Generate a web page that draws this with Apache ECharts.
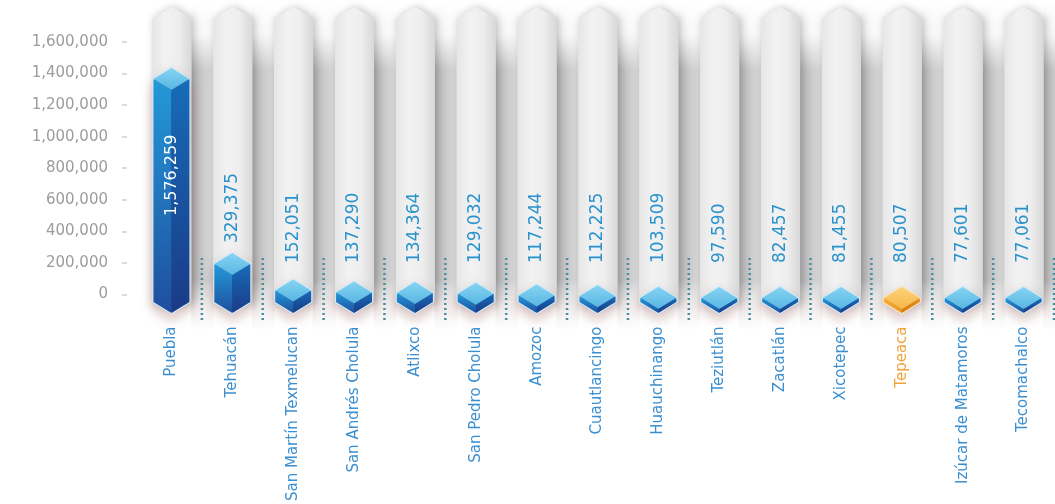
<!DOCTYPE html>
<html>
<head>
<meta charset="utf-8">
<script src="https://cdn.jsdelivr.net/npm/echarts@6/dist/echarts.min.js"></script>
<style>
html,body{margin:0;padding:0;background:#ffffff;}
#chart{width:1055px;height:504px;}
</style>
</head>
<body>
<div id="chart"></div>
<script>
// ---- data ----
const categories = ['Puebla','Tehuacán','San Martín Texmelucan','San Andrés Cholula','Atlixco','San Pedro Cholula','Amozoc','Cuautlancingo','Huauchinango','Teziutlán','Zacatlán','Xicotepec','Tepeaca','Izúcar de Matamoros','Tecomachalco'];
const population = [1576259,329375,152051,137290,134364,129032,117244,112225,103509,97590,82457,81455,80507,77601,77061];
const highlighted = 'Tepeaca';
const yMin = 0, yMax = 1600000, yStep = 200000;

// ---- styles ----
const FONT = '"DejaVu Sans", "Noto Sans", sans-serif';
const LG = (stops) => new echarts.graphic.LinearGradient(0, 0, 0, 1, stops.map((c, i) => ({offset: i / (stops.length - 1), color: c})));
const LGH = (stops) => new echarts.graphic.LinearGradient(0, 0, 1, 0, stops.map((c, i) => ({offset: i / (stops.length - 1), color: c})));
const blue = {top: ['#86d4f2', '#58b6e3'], left: ['#2499d8', '#1e4f9e'], right: ['#176cb8', '#1b3a86'], edge: '#d3ecf9'};
const orange = {top: ['#fcd27a', '#f7b64a'], left: ['#f6ad38', '#e8921d'], right: ['#e49425', '#cf7913'], edge: '#fde7c0'};

const chart = echarts.init(document.getElementById('chart'), null, {renderer: 'canvas'});

function renderColumn(params, api) {
  const i = api.value(0);
  const x = api.coord([i, 0])[0];
  const bw = api.size([1, 0])[0];
  const gx0 = x + 20, gx1 = x + bw - 19;
  return {
    type: 'group',
    children: [
      // shaded gap to the right of the column
      {type: 'rect', shape: {x: gx0, y: 0, width: gx1 - gx0, height: 330},
        style: {fill: LGH(['#b9b9b9', '#c9c9c9', '#dcdcdc'])}},
      // fade the gap into white at the top
      {type: 'rect', shape: {x: gx0 - 1, y: 0, width: gx1 - gx0 + 2, height: 70},
        style: {fill: LG(['rgba(255,255,255,1)', 'rgba(255,255,255,0.85)', 'rgba(255,255,255,0)'])}},
      // fade at the bottom
      {type: 'rect', shape: {x: gx0 - 1, y: 280, width: gx1 - gx0 + 2, height: 50},
        style: {fill: LG(['rgba(255,255,255,0)', 'rgba(250,244,244,0.8)', 'rgba(255,255,255,1)'])}},
      // the column itself
      {type: 'polygon',
        shape: {points: [[x - 19, 18], [x + 0.5, 7], [x + 20, 18], [x + 20, 305], [x - 19, 305]]},
        style: {fill: LGH(['#e6e6e6', '#f2f2f2', '#eeeeee', '#d8d8d8']),
          shadowColor: 'rgba(0,0,0,0.25)', shadowBlur: 8, shadowOffsetX: 2}}
    ]
  };
}

function renderSeparator(params, api) {
  const i = api.value(0);
  const x = api.coord([i, 0])[0];
  const bw = api.size([1, 0])[0];
  const xs = x + bw / 2;
  return {
    type: 'line',
    shape: {x1: xs, y1: 258, x2: xs, y2: 320},
    style: {stroke: '#4a8da0', lineWidth: 2.5, lineDash: [2, 3]}
  };
}

function renderBar(params, api) {
  const i = api.value(0), v = api.value(1);
  const top = api.coord([i, v]);
  const base = api.coord([i, 0]);
  const x = top[0], w = 18, d = 11;
  const yb = base[1];
  const ysB = yb - d;
  const ys = Math.min(top[1], ysB - 4);
  const c = categories[i] === highlighted ? orange : blue;
  const children = [
    {type: 'polygon', shape: {points: [[x - w, ys], [x, ys - d], [x + w, ys], [x + w, ysB], [x, yb], [x - w, ysB]]},
      style: {fill: c.left[1], stroke: c.edge, lineWidth: 2, shadowColor: 'rgba(150,90,90,0.35)', shadowBlur: 12, shadowOffsetY: 6}},
    {type: 'polygon', shape: {points: [[x - w, ys], [x, ys + d], [x, yb], [x - w, ysB]]}, style: {fill: LG(c.left)}},
    {type: 'polygon', shape: {points: [[x, ys + d], [x + w, ys], [x + w, ysB], [x, yb]]}, style: {fill: LG(c.right)}},
    {type: 'polygon', shape: {points: [[x - w, ys], [x, ys - d], [x + w, ys], [x, ys + d]]}, style: {fill: LG(c.top)}}
  ];
  const txt = v.toLocaleString('en-US');
  const inside = (yb - ys) > 150;
  children.push({
    type: 'text', x: x, y: inside ? ys + d + 126 : Math.min(ys - d - 10, 263), rotation: Math.PI / 2,
    style: {text: txt, fill: inside ? '#ffffff' : '#2a92cc', fontSize: inside ? 16 : 17, fontFamily: FONT,
      align: 'left', verticalAlign: 'middle'}
  });
  return {type: 'group', children};
}

const option = {
  animation: false,
  backgroundColor: '#ffffff',
  grid: [
    {left: 141, right: 1, top: 42, bottom: 206},
    {left: 141, right: 1, top: 75.5, bottom: 191}
  ],
  xAxis: [
    {type: 'category', gridIndex: 0,
      data: categories.map(c => c === highlighted ? {value: c, textStyle: {color: '#f0a43c'}} : c),
      axisLine: {show: false}, axisTick: {show: false},
      axisLabel: {interval: 0, rotate: 90, margin: 32, fontSize: 15, fontFamily: FONT, color: '#3b8fd0'}},
    {type: 'category', gridIndex: 1, data: categories, show: false}
  ],
  yAxis: [
    {type: 'value', gridIndex: 0, min: yMin, max: yMax, interval: yStep, offset: 14,
      axisLine: {show: false}, splitLine: {show: false},
      axisTick: {show: true, length: 5, lineStyle: {color: '#d0d0d0', width: 1.5}},
      axisLabel: {margin: 19, fontSize: 15, fontFamily: FONT, color: '#9c9c9c',
        formatter: v => v.toLocaleString('en-US')}},
    {type: 'value', gridIndex: 1, min: yMin, max: yMax, show: false}
  ],
  series: [
    {type: 'custom', name: 'columns', xAxisIndex: 1, yAxisIndex: 1, z: 1, silent: true,
      data: categories.map((c, i) => [i, 0]), renderItem: renderColumn, clip: false},
    {type: 'custom', name: 'separators', xAxisIndex: 1, yAxisIndex: 1, z: 2, silent: true,
      data: categories.map((c, i) => [i, 0]), renderItem: renderSeparator, clip: false},
    {type: 'custom', name: 'Población', xAxisIndex: 1, yAxisIndex: 1, z: 3,
      data: population.map((v, i) => [i, v]), renderItem: renderBar, clip: false}
  ]
};
chart.setOption(option);
</script>
</body>
</html>
